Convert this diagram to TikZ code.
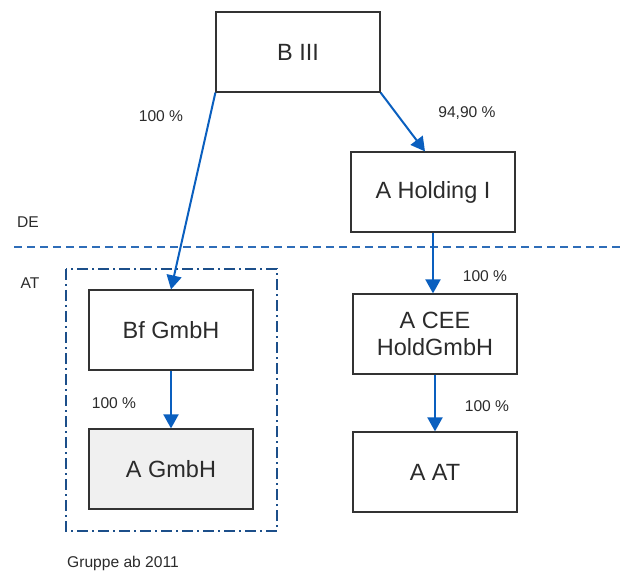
\documentclass[tikz,border=0pt]{standalone}
\usepackage{fontspec}
\setmainfont{Liberation Sans}
\usetikzlibrary{arrows.meta}
\definecolor{txt}{HTML}{2B2B2B}
\definecolor{arrowblue}{HTML}{0A5FBF}
\definecolor{dashblue}{HTML}{2E6DB8}
\definecolor{navy}{HTML}{1C4F8A}
\definecolor{boxgray}{HTML}{F0F0F0}
\begin{document}
\begin{tikzpicture}[x=1pt,y=-1pt,
  box/.style={draw=black!80,line width=1.2pt,minimum width=164pt,minimum height=80pt,
    inner sep=0pt,align=center,text=txt,font=\fontsize{23.5}{27}\selectfont},
  lbl/.style={text=txt,font=\fontsize{15.6}{18}\selectfont,inner sep=0pt},
  arr/.style={draw=arrowblue,line width=2pt,-{Triangle[length=14pt,width=15pt]}}]
\useasboundingbox (0,0) rectangle (627,572);
\node[box] (b) at (298,52) {B III};
\node[box] (ah) at (433,192) {A Holding I};
\node[box] (bf) at (171,330) {Bf GmbH};
\node[box,fill=boxgray] (ag) at (171,469) {A GmbH};
\node[box] (ac) at (435,334) {A CEE\\HoldGmbH};
\node[box] (aa) at (435,472) {A AT};
\coordinate (dl) at (14,247);
\coordinate (dr) at (620,247);
\draw[dashblue,line width=1.8pt,dash pattern=on 8pt off 5pt] (dl) -- (dr);
\draw[navy,line width=1.8pt,dash pattern=on 11pt off 4pt on 2pt off 4pt] (66,269) rectangle (277,531);
\draw[arr] (b.south west) -- (bf.north);
\draw[arr] (b.south east) -- ([xshift=-8pt]ah.north);
\draw[arr] (ah.south) -- (ac.north -| ah.south);
\draw[arr] (ac.south) -- (aa.north);
\draw[arr] (bf.south) -- (ag.north);
\node[lbl] (l1) at (161,116) {100 \%};
\node[lbl] (l2) at (467,113) {94,90 \%};
\node[lbl] (l3) at (485,276) {100 \%};
\node[lbl] (l4) at (114,403) {100 \%};
\node[lbl] (l5) at (487,406) {100 \%};
\node[lbl] (de) at (28,222) {DE};
\node[lbl] (at) at (30,283) {AT};
\node[lbl] (gr) at (123,563) {Gruppe ab 2011};
\end{tikzpicture}
\end{document}
